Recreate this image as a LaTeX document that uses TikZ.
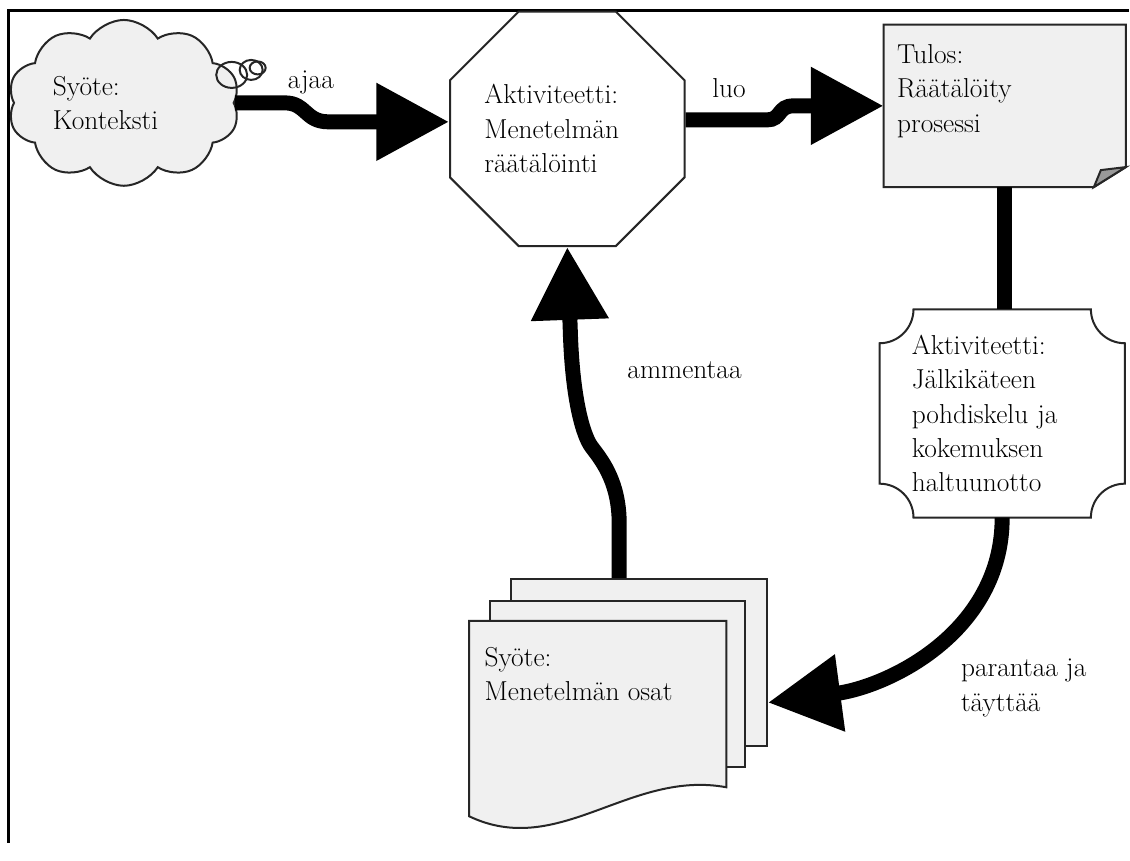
\documentclass[tikz,border=0pt]{standalone}
\usepackage{tikz}
\usetikzlibrary{arrows.meta,shapes.geometric,shapes.symbols,calc}

\begin{document}
\begin{tikzpicture}[
    x=0.025cm,y=-0.025cm,
    font=\fontsize{19.5}{24.5}\selectfont,
    reuna/.style={draw=black!85,line width=0.05cm},
    arkki/.style={reuna,fill=black!6,rectangle,inner sep=0pt},
    laatikko/.style={rectangle,inner sep=0pt},
    teksti/.style={inner sep=0pt,align=left},
    sana/.style={inner sep=0pt},
    virta/.style={line width=0.375cm,draw=black,
      -{Triangle[length=1.82cm,width=1.85cm]}},
    yhteys/.style={line width=0.375cm,draw=black}
]
\fill[white] (0,0) rectangle (1130,844);
\draw[line width=0.075cm] (1130,11) -- (9,11) -- (9,844);

% syote ja aktiviteetti
\node[reuna,fill=black!6,cloud,cloud puffs=10,cloud puff arc=115,aspect=1.45,
  minimum width=5.8cm,minimum height=4.15cm,inner sep=0pt,
  text width=3.55cm,align=left] (konteksti)
  at (124,103) {Syöte:\\Konteksti};
\draw[reuna] (232,75) ellipse[x radius=15.5,y radius=13];
\draw[reuna] (251.5,70) ellipse[x radius=11.5,y radius=10];
\draw[reuna] (258,68) ellipse[x radius=8,y radius=6.5];

\node[reuna,fill=white,regular polygon,regular polygon sides=8,
  minimum size=6.2cm,inner sep=0pt,text width=4.15cm,align=left] (raatalointi)
  at (568,129) {Aktiviteetti:\\Menetelmän\\räätälöinti};

% tulos
\node[laatikko,minimum width=6.05cm,minimum height=4.05cm] (tulos) at (1006,106) {};
\filldraw[reuna,fill=black!6] (tulos.north west) -- (tulos.north east)
  -- ($(tulos.south east)+(0,-20)$) -- ($(tulos.south east)+(-32,0)$)
  -- (tulos.south west) -- cycle;
\filldraw[reuna,fill=black!40] ($(tulos.south east)+(0,-20)$)
  -- ($(tulos.south east)+(-25,-17)$) -- ($(tulos.south east)+(-32,0)$) -- cycle;
\node[teksti,anchor=west] (tulosteksti) at (898,91) {Tulos:\\Räätälöity\\prosessi};

% jalkikateen pohdiskelu
\node[laatikko,minimum width=6.125cm,minimum height=5.2cm,text width=4.525cm,
  align=left] (jalki)
  at (1003.5,414) {Aktiviteetti:\\Jälkikäteen\\pohdiskelu ja\\kokemuksen\\haltuunotto};
\draw[reuna] ($(jalki.north west)+(34,0)$) -- ($(jalki.north east)+(-34,0)$)
  arc[start angle=180,end angle=90,radius=34]
  -- ($(jalki.south east)+(0,-34)$) arc[start angle=270,end angle=180,radius=34]
  -- ($(jalki.south west)+(34,0)$) arc[start angle=0,end angle=-90,radius=34]
  -- ($(jalki.north west)+(0,34)$) arc[start angle=90,end angle=0,radius=34]
  -- cycle;

% menetelman osat
\node[arkki,minimum width=6.4cm,minimum height=4.175cm] (taka) at (640,663.5) {};
\node[arkki,minimum width=6.375cm,minimum height=4.15cm] (keski) at (618.5,685) {};
\node[laatikko,minimum width=6.425cm,minimum height=4.875cm] (etu) at (598.5,719.5) {};
\filldraw[reuna,fill=black!6] (etu.north west) -- (etu.north east)
  -- ($(etu.south east)+(0,-29)$)
  .. controls ($(etu.south east)+(-97,-47)$) and ($(etu.south west)+(90,43)$)
  .. (etu.south west) -- cycle;
\node[teksti,anchor=west] (osatteksti) at (485,675) {Syöte:\\Menetelmän osat};

% nuolet
\draw[virta] (konteksti.east) -- ++(50,0) .. controls +(22,0) and +(-24,0) .. ++(44,19)
  -- ($(raatalointi.west)+(0,-7)$);
\draw[virta] ($(raatalointi.east)+(0,-9)$) -- ++(82,0)
  .. controls +(14,0) and +(-16,0) .. ++(26,-14) -- (tulos.west);
\draw[yhteys] (tulos.south) -- (tulos.south |- jalki.north);
\draw[virta] (jalki.south) .. controls +(0,115) and +(120,-16) .. ($(taka.east)+(0,40)$);
\draw[virta] ($(taka.north)+(-20,0)$) -- ++(0,-55)
  .. controls (620,480) and (600,458) .. (592,447)
  .. controls (584,436) and (573,400) .. (571,330) -- (raatalointi.south);

\node[sana,anchor=base west] (ajaa) at (288,89) {ajaa};
\node[sana,anchor=base west] (luo) at (713,98) {luo};
\node[sana,anchor=base west] (ammentaa) at (628,379) {ammentaa};
\node[teksti,anchor=west] (parantaa) at (962,689) {parantaa ja\\täyttää};
\end{tikzpicture}
\end{document}
